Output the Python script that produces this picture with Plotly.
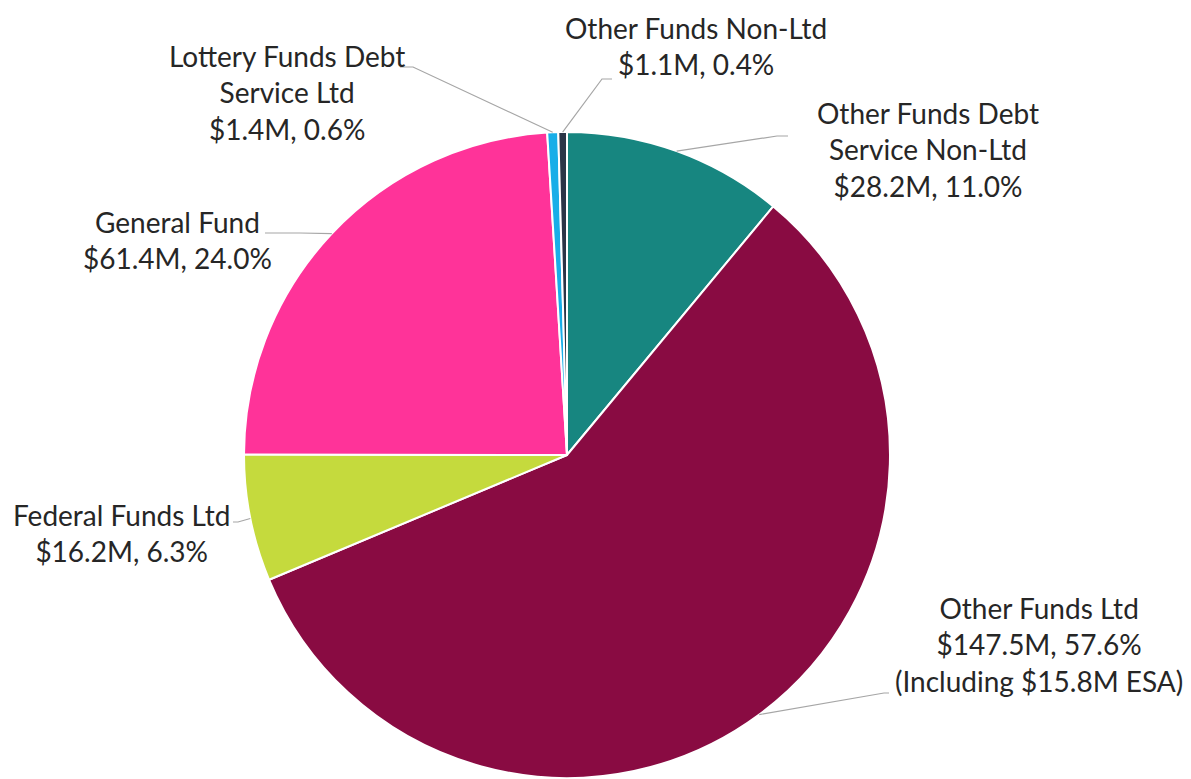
import math
import plotly.graph_objects as go

# ---------------- data ----------------
categories = [
    "Other Funds Debt Service Non-Ltd",
    "Other Funds Ltd",
    "Federal Funds Ltd",
    "General Fund",
    "Lottery Funds Debt Service Ltd",
    "Other Funds Non-Ltd",
]
values_musd = [28.2, 147.5, 16.2, 61.4, 1.4, 1.1]
percent_labels = [11.0, 57.6, 6.3, 24.0, 0.6, 0.4]
label_lines = [
    ["Other Funds Debt", "Service Non-Ltd"],
    ["Other Funds Ltd"],
    ["Federal Funds Ltd"],
    ["General Fund"],
    ["Lottery Funds Debt", "Service Ltd"],
    ["Other Funds Non-Ltd"],
]
extra_lines = [[], ["(Including $15.8M ESA)"], [], [], [], []]

# ---------------- styles / layout ----------------
colors = ["#178680", "#890B42", "#C5DA3D", "#FF3399", "#18AEE8", "#2B3547"]
OFF = 8                      # page body margin in the browser
W, H = 1191 - OFF, 779 - OFF  # figure size so the page fits the window
CX, CY, R = 567, 455, 323     # positions in window pixels
FONT = "Lato"
FS = 28

# label block centres (window pixels) and leader elbows/ends (window pixels)
label_pos = [(928, 149), (1039, 644), (121, 533), (177, 240), (287, 92), (696, 46)]
leader_elbow = [(777, 136), (884, 693), (238, 522), (300, 233), (413, 67), (602, 79)]
leader_end = [(788, 136), (889, 693), (233, 522), (265, 233), (400, 67), (612, 79)]


def px(x):
    return (x - OFF) / W


def py(y):
    return 1 - (y - OFF) / H


fig = go.Figure()
fig.add_trace(go.Pie(
    labels=categories,
    values=values_musd,
    sort=False,
    direction="clockwise",
    rotation=0,
    textinfo="none",
    hoverinfo="label+value+percent",
    marker=dict(colors=colors, line=dict(color="white", width=2)),
    domain=dict(x=[px(CX - R), px(CX + R)], y=[max(0, py(CY + R)), py(CY - R)]),
    showlegend=False,
))

total = sum(values_musd)
cum = 0.0
shapes = []
annotations = []
for i, v in enumerate(values_musd):
    mid = (cum + v / 2) / total * 2 * math.pi
    cum += v
    sx = CX + R * math.sin(mid)
    sy = CY - R * math.cos(mid)
    ex, ey = leader_elbow[i]
    fx, fy = leader_end[i]
    path = f"M {px(sx)},{py(sy)} L {px(ex)},{py(ey)} L {px(fx)},{py(fy)}"
    shapes.append(dict(type="path", xref="paper", yref="paper", path=path,
                       line=dict(color="#A6A6A6", width=1.2)))
    lines = label_lines[i] + [f"${v:.1f}M, {percent_labels[i]:.1f}%"] + extra_lines[i]
    lx, ly = label_pos[i]
    annotations.append(dict(
        x=px(lx), y=py(ly), xref="paper", yref="paper",
        text="<br>".join(lines), showarrow=False,
        xanchor="center", yanchor="middle", align="center",
        font=dict(family=FONT, size=FS, color="#262626"),
    ))

fig.update_layout(
    width=W, height=H,
    margin=dict(l=0, r=0, t=0, b=0),
    paper_bgcolor="white",
    plot_bgcolor="white",
    shapes=shapes,
    annotations=annotations,
)

fig.write_html("out.html")
